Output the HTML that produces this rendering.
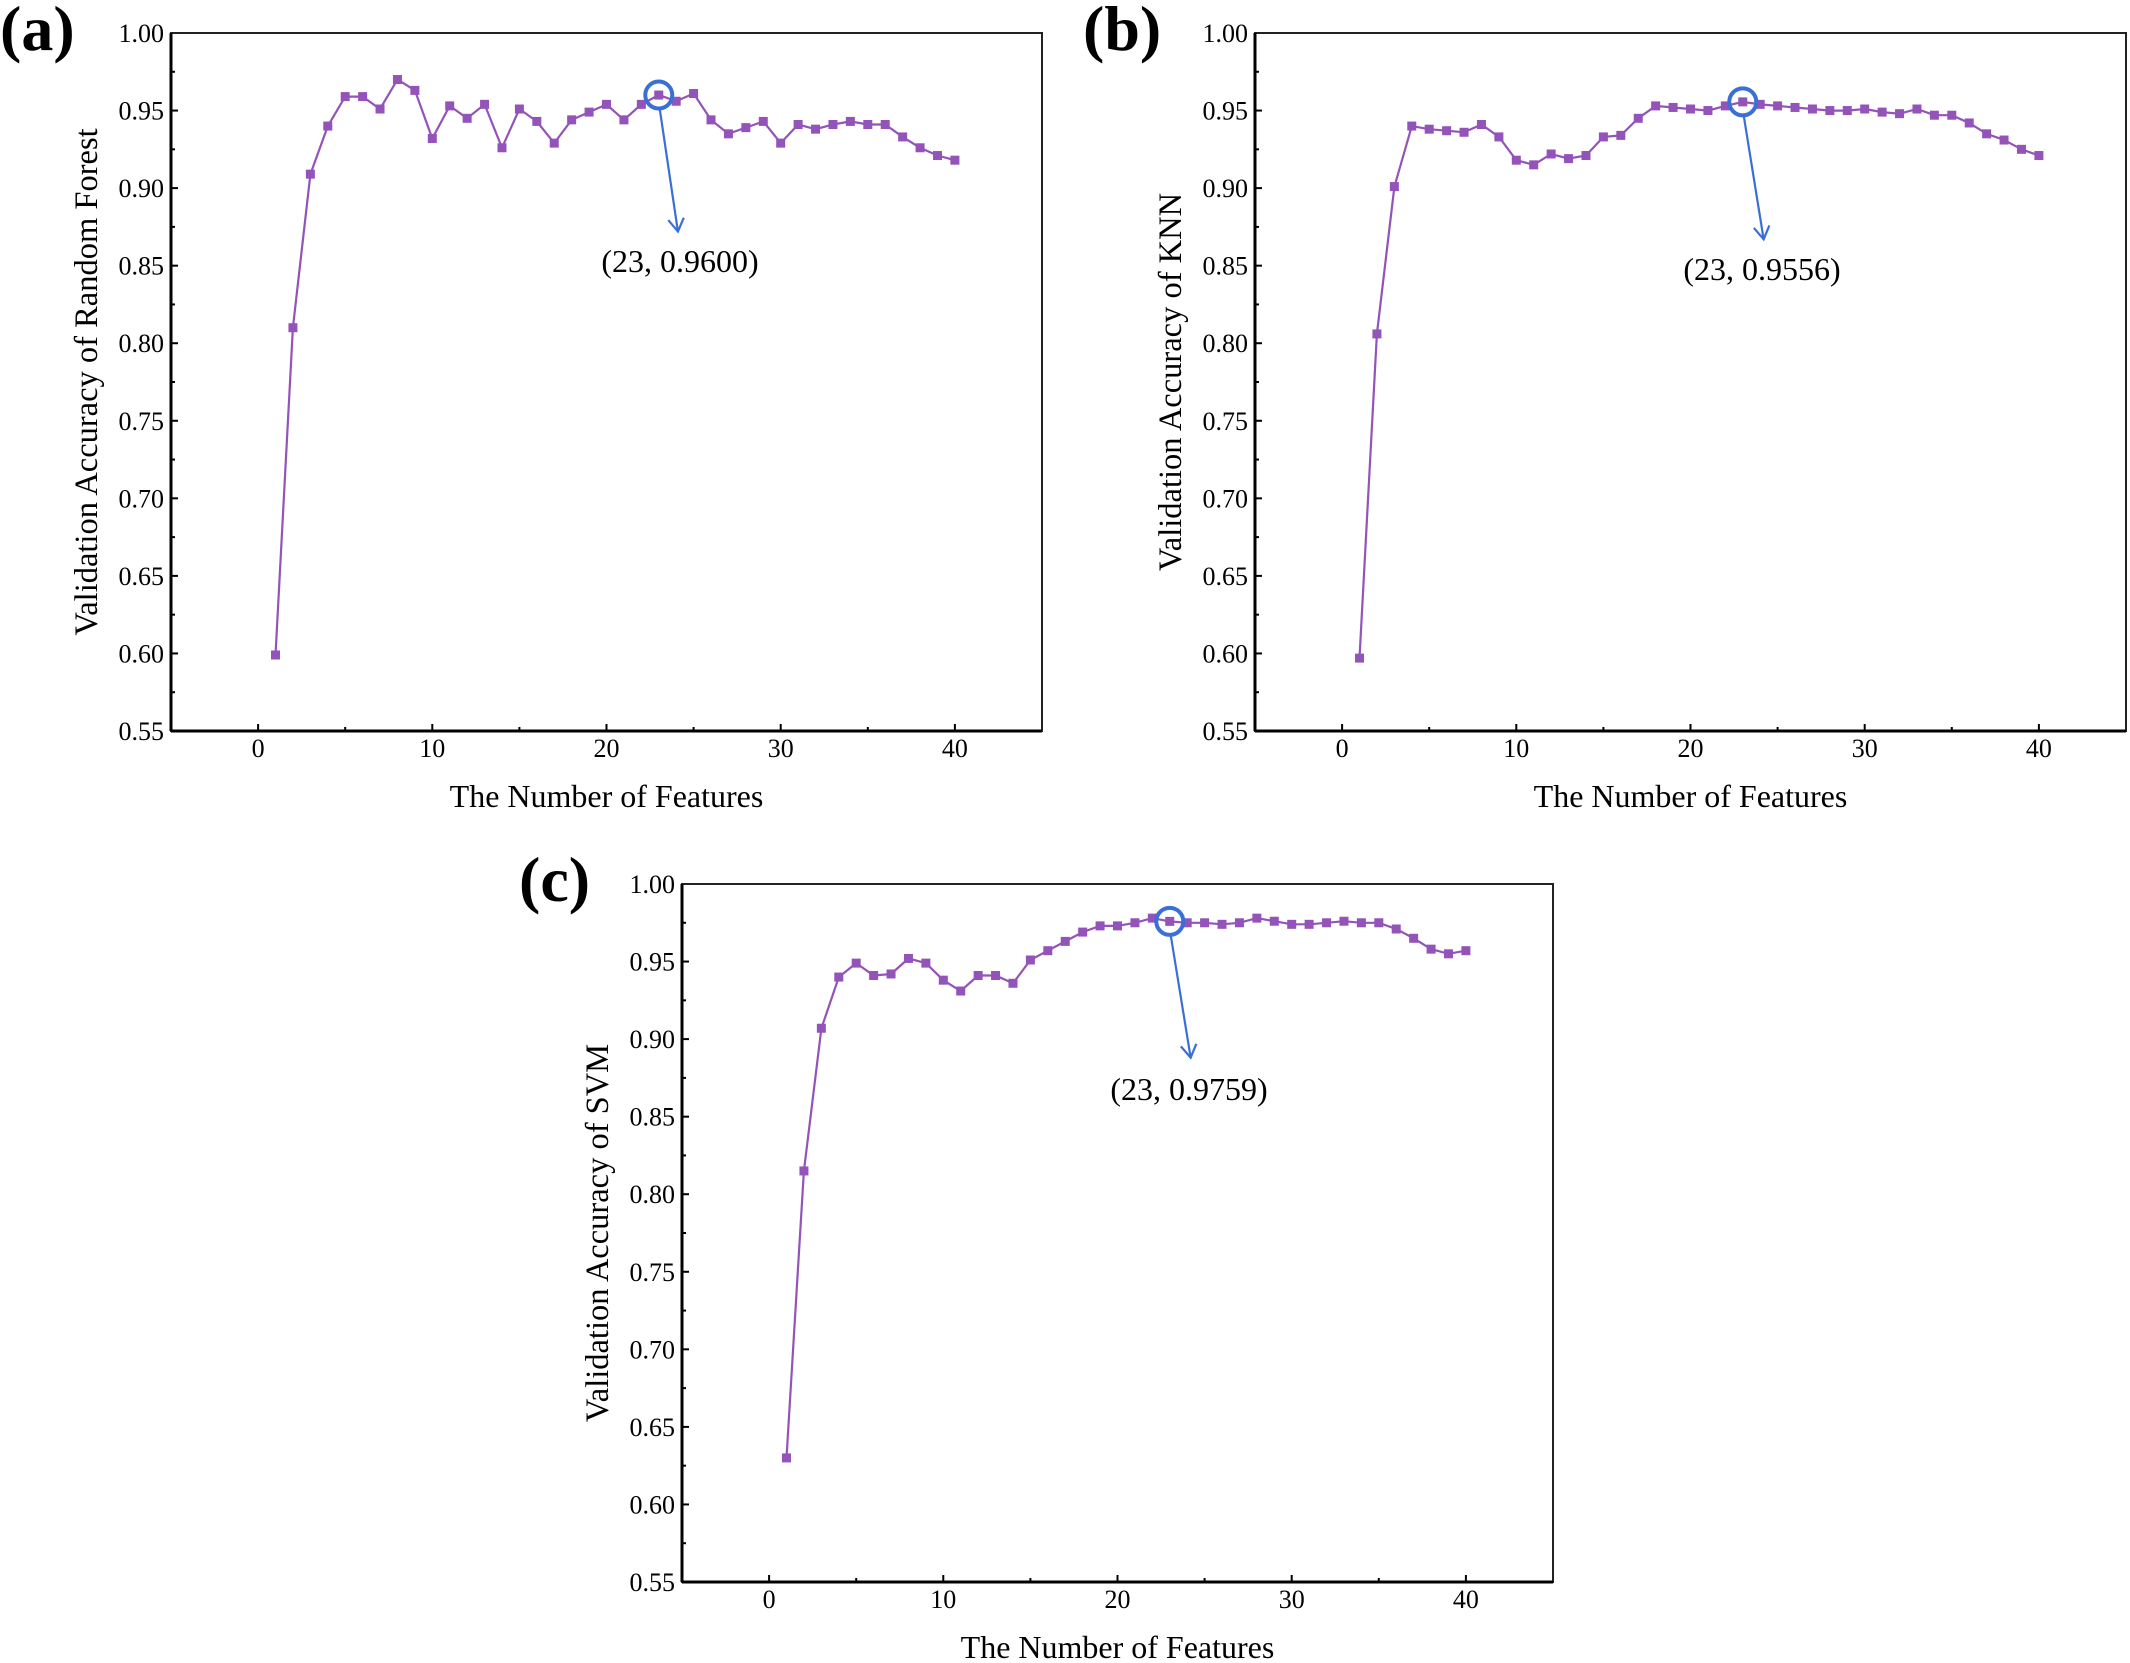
<!DOCTYPE html>
<html><head><meta charset="utf-8"><style>
html,body{margin:0;padding:0;background:#fff;}
svg{display:block;}
text{font-family:"Liberation Serif","Times New Roman",serif;fill:#000;}
</style></head><body>
<svg id="s" width="2130" height="1663" viewBox="0 0 2130 1663" xmlns="http://www.w3.org/2000/svg"></svg>
<script>
const A=[0.599,0.810,0.909,0.940,0.959,0.959,0.951,0.970,0.963,0.932,0.953,0.945,0.954,0.926,0.951,0.943,0.929,0.944,0.949,0.954,0.944,0.954,0.960,0.956,0.961,0.944,0.935,0.939,0.943,0.929,0.941,0.938,0.941,0.943,0.941,0.941,0.933,0.926,0.921,0.918];
const B=[0.597,0.806,0.901,0.940,0.938,0.937,0.936,0.941,0.933,0.918,0.915,0.922,0.919,0.921,0.933,0.934,0.945,0.953,0.952,0.951,0.950,0.953,0.9556,0.954,0.953,0.952,0.951,0.950,0.950,0.951,0.949,0.948,0.951,0.947,0.947,0.942,0.935,0.931,0.925,0.921];
const C=[0.630,0.815,0.907,0.940,0.949,0.941,0.942,0.952,0.949,0.938,0.931,0.941,0.941,0.936,0.951,0.957,0.963,0.969,0.973,0.973,0.975,0.978,0.9759,0.975,0.975,0.974,0.975,0.978,0.976,0.974,0.974,0.975,0.976,0.975,0.975,0.971,0.965,0.958,0.955,0.957];
let h='';
const FF='font-family="Liberation Serif, Times New Roman, serif"';
function panel(L,T,data,ylab,lab,labX,labY,ann,arrEnd,annPos){
  const W=871,H=698;
  const X=x=>L+(x+5)/50*W, Y=v=>T+(1-v)/0.45*H;
  h+=`<rect x="${L}" y="${T}" width="${W}" height="${H}" fill="none" stroke="#222" stroke-width="2"/>`;
  h+=`<line x1="${L}" y1="${T}" x2="${L}" y2="${T+H}" stroke="#000" stroke-width="3"/><line x1="${L}" y1="${T+H}" x2="${L+W}" y2="${T+H}" stroke="#000" stroke-width="3"/>`;
  for(let i=0;i<=9;i++){const v=0.55+i*0.05,y=Y(v);
    if(i>0&&i<9)h+=`<line x1="${L}" y1="${y}" x2="${L+7}" y2="${y}" stroke="#000" stroke-width="2"/>`;
    h+=`<text ${FF} x="${L-7}" y="${y+9}" font-size="26" text-anchor="end">${v.toFixed(2)}</text>`;
    if(i<9){const ym=Y(v+0.025);h+=`<line x1="${L}" y1="${ym}" x2="${L+4}" y2="${ym}" stroke="#000" stroke-width="2"/>`;}
  }
  for(let x=0;x<=40;x+=10){const px=X(x);
    h+=`<line x1="${px}" y1="${T+H}" x2="${px}" y2="${T+H-7}" stroke="#000" stroke-width="2"/>`;
    h+=`<text ${FF} x="${px}" y="${T+H+26}" font-size="26" text-anchor="middle">${x}</text>`;}
  for(let x=5;x<45;x+=10){const px=X(x);h+=`<line x1="${px}" y1="${T+H}" x2="${px}" y2="${T+H-4}" stroke="#000" stroke-width="2"/>`;}
  h+=`<text ${FF} x="${L+W/2}" y="${T+H+76}" font-size="32" text-anchor="middle">The Number of Features</text>`;
  h+=`<text ${FF} transform="translate(${L-74},${T+H/2}) rotate(-90)" font-size="32.5" text-anchor="middle">${ylab}</text>`;
  h+=`<text ${FF} x="${labX}" y="${labY}" font-size="64" font-weight="bold">${lab}</text>`;
  let p=data.map((v,i)=>X(i+1).toFixed(1)+','+Y(v).toFixed(1)).join(' ');
  h+=`<polyline points="${p}" fill="none" stroke="#9353b8" stroke-width="2.2"/>`;
  data.forEach((v,i)=>{h+=`<rect x="${X(i+1)-4.5}" y="${Y(v)-4.5}" width="9" height="9" fill="#9353b8"/>`;});
  const cx=X(23),cy=Y(data[22]);
  h+=`<circle cx="${cx}" cy="${cy}" r="13.5" fill="none" stroke="#3a6fd6" stroke-width="4"/>`;
  const ex=X(arrEnd[0]),ey=Y(arrEnd[1]),sx=cx+1,sy=cy+14;
  const ang=Math.atan2(ey-sy,ex-sx);
  const a1=ang+Math.PI-0.55,a2=ang+Math.PI+0.55,l=15;
  h+=`<line x1="${sx}" y1="${sy}" x2="${ex}" y2="${ey}" stroke="#3a6fd6" stroke-width="2.2"/>`;
  h+=`<polyline points="${ex+l*Math.cos(a1)},${ey+l*Math.sin(a1)} ${ex},${ey} ${ex+l*Math.cos(a2)},${ey+l*Math.sin(a2)}" fill="none" stroke="#3a6fd6" stroke-width="2.2"/>`;
  h+=`<text ${FF} x="${annPos[0]}" y="${annPos[1]}" font-size="32" text-anchor="middle">${ann}</text>`;
}
panel(171,33,A,"Validation Accuracy of Random Forest","(a)",0,50,"(23, 0.9600)",[24.1,0.872],[680,272]);
panel(1255,33,B,"Validation Accuracy of KNN","(b)",1083,50,"(23, 0.9556)",[24.2,0.867],[1762,280]);
panel(682,884,C,"Validation Accuracy of SVM","(c)",519,901,"(23, 0.9759)",[24.2,0.888],[1189,1100]);
document.getElementById('s').innerHTML=h;
</script>
</body></html>
